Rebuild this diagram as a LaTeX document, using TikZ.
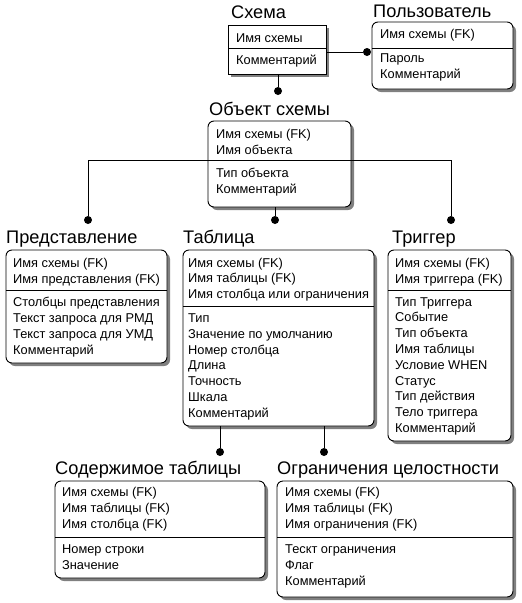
\documentclass[tikz,border=0pt]{standalone}
\usepackage{fontspec}
\setmainfont{Liberation Sans}
\usetikzlibrary{shadows}
\newcommand\rowfont{\fontsize{12.8}{15}\selectfont}
\newcommand\titlefont{\fontsize{18.2}{20}\selectfont}
\begin{document}
\begin{tikzpicture}[x=1pt,y=-1pt,
  ent/.style={draw, line width=0.9pt, fill=white, inner sep=0, outer sep=0, anchor=north west,
    drop shadow={shadow xshift=3pt, shadow yshift=-3pt, fill=black!50, opacity=1}},
  rent/.style={ent, rounded corners=6pt},
  ttl/.style={anchor=base west, inner sep=0, font=\titlefont},
  row/.style={anchor=base west, inner sep=0, font=\rowfont},
  dot/.style={circle, fill=black, inner sep=0, minimum size=8pt},
  link/.style={line width=0.9pt}]
\useasboundingbox (0,0) rectangle (522,603);

% ---------- Схема ----------
\node[ttl] (tschema) at (231,18) {Схема};
\node[ent, minimum width=98pt, minimum height=49pt] (schema) at (228,25) {};
\draw[link] (schema.west |- 0,48) -- (schema.east |- 0,48);
\node[row] (schema1) at (236,42) {Имя схемы};
\node[row] (schema2) at (236,64) {Комментарий};

% ---------- Пользователь ----------
\node[ttl] (tuser) at (373,17) {Пользователь};
\node[rent, minimum width=141pt, minimum height=67pt] (user) at (372,22) {};
\draw[link] (user.west |- 0,48) -- (user.east |- 0,48);
\node[row] (user1) at (380,38) {Имя схемы (FK)};
\node[row] (user2) at (380,62) {Пароль};
\node[row] (user3) at (380,78) {Комментарий};

% ---------- Объект схемы ----------
\node[ttl] (tobj) at (209,115) {Объект схемы};
\node[rent, minimum width=143pt, minimum height=86pt] (obj) at (208,121) {};
\draw[link] (obj.west |- 0,160) -- (obj.east |- 0,160);
\node[row] (obj1) at (216,138) {Имя схемы (FK)};
\node[row] (obj2) at (216,154) {Имя объекта};
\node[row] (obj3) at (216,177) {Тип объекта};
\node[row] (obj4) at (216,193) {Комментарий};

% ---------- Представление ----------
\node[ttl] (tview) at (6,243) {Представление};
\node[rent, minimum width=161pt, minimum height=113pt] (view) at (6,250) {};
\draw[link] (view.west |- 0,290) -- (view.east |- 0,290);
\foreach \t [count=\i from 0] in {Имя схемы (FK), Имя представления (FK)}
  \node[row] (viewA\i) at (13,{267+16*\i}) {\t};
\foreach \t [count=\i from 0] in {Столбцы представления, Текст запроса для РМД, Текст запроса для УМД, Комментарий}
  \node[row] (viewB\i) at (13,{306.5+16*\i}) {\t};

% ---------- Таблица ----------
\node[ttl] (ttab) at (183,243) {Таблица};
\node[rent, minimum width=191pt, minimum height=176pt] (tab) at (183,250) {};
\draw[link] (tab.west |- 0,306) -- (tab.east |- 0,306);
\foreach \t [count=\i from 0] in {Имя схемы (FK), Имя таблицы (FK), Имя столбца или ограничения}
  \node[row] (tabA\i) at (188,{267+15.9*\i}) {\t};
\foreach \t [count=\i from 0] in {Тип, Значение по умолчанию, Номер столбца, Длина, Точность, Шкала, Комментарий}
  \node[row] (tabB\i) at (188,{322.5+15.8*\i}) {\t};

% ---------- Триггер ----------
\node[ttl] (ttrig) at (392,243) {Триггер};
\node[rent, minimum width=123pt, minimum height=191pt] (trig) at (388,250) {};
\draw[link] (trig.west |- 0,290) -- (trig.east |- 0,290);
\foreach \t [count=\i from 0] in {Имя схемы (FK), Имя триггера (FK)}
  \node[row] (trigA\i) at (395,{267+16*\i}) {\t};
\foreach \t [count=\i from 0] in {Тип Триггера, Событие, Тип объекта, Имя таблицы, Условие WHEN, Статус, Тип действия, Тело триггера, Комментарий}
  \node[row] (trigB\i) at (395,{306+15.8*\i}) {\t};

% ---------- Содержимое таблицы ----------
\node[ttl] (tcont) at (55,474) {Содержимое таблицы};
\node[rent, minimum width=210pt, minimum height=97pt] (cont) at (55,481) {};
\draw[link] (cont.west |- 0,537) -- (cont.east |- 0,537);
\foreach \t [count=\i from 0] in {Имя схемы (FK), Имя таблицы (FK), Имя столбца (FK)}
  \node[row] (contA\i) at (62,{496.5+15.8*\i}) {\t};
\foreach \t [count=\i from 0] in {Номер строки, Значение}
  \node[row] (contB\i) at (62,{553+16*\i}) {\t};

% ---------- Ограничения целостности ----------
\node[ttl] (tcons) at (277,474) {Ограничения целостности};
\node[rent, minimum width=236pt, minimum height=116pt] (cons) at (277,481) {};
\draw[link] (cons.west |- 0,537) -- (cons.east |- 0,537);
\foreach \t [count=\i from 0] in {Имя схемы (FK), Имя таблицы (FK), Имя ограничения (FK)}
  \node[row] (consA\i) at (285,{496.5+15.8*\i}) {\t};
\foreach \t [count=\i from 0] in {Тескт ограничения, Флаг, Комментарий}
  \node[row] (consB\i) at (285,{553+16.3*\i}) {\t};

% ---------- connectors ----------
\node[dot] (d1) at (367,52) {};
\node[dot] (d2) at (278,91) {};
\node[dot] (d3) at (88,220) {};
\node[dot] (d4) at (275,220) {};
\node[dot] (d5) at (451,220) {};
\node[dot] (d6) at (220,452) {};
\node[dot] (d7) at (324,452) {};
\coordinate (objdiv) at (0,160);

\draw[link] (d1 -| schema.east) -- (d1);
\draw[link] (schema.south -| d2) -- (d2);
\draw[link] (obj.west |- objdiv) -| (d3);
\draw[link] (obj.east |- objdiv) -| (d5);
\draw[link] (obj.south -| d4) -- (d4);
\draw[link] (tab.south -| d6) -- (d6);
\draw[link] (tab.south -| d7) -- (d7);
\end{tikzpicture}
\end{document}
